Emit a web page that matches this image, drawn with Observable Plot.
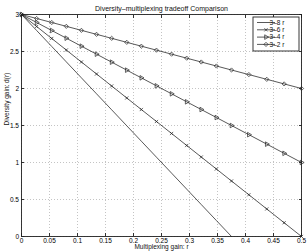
<!DOCTYPE html>
<html>
<head>
<meta charset="utf-8">
<script src="https://cdn.jsdelivr.net/npm/d3@7"></script>
<script src="https://cdn.jsdelivr.net/npm/@observablehq/plot@0.6"></script>
<style>
  html, body { margin: 0; padding: 0; background: #fff; }
  svg { display: block; }
</style>
</head>
<body>
<div id="chart"></div>
<script>
const titleText = "Diversity\u2013multiplexing tradeoff Comparison";
const xLabel = "Multiplexing gain: r";
const yLabel = "Diversity gain: d(r)";
const xTicks = [0, 0.05, 0.1, 0.15, 0.2, 0.25, 0.3, 0.35, 0.4, 0.45, 0.5];
const yTicks = [0, 0.5, 1, 1.5, 2, 2.5, 3];
const seriesNames = ["3\u20138 r", "3\u20136 r", "3\u20134 r", "3\u20132 r"];
const seriesSymbols = [null, "times", "triangle", "diamond2"];

const r = [0, 0.027, 0.054, 0.080, 0.107, 0.134, 0.161, 0.188, 0.214, 0.241, 0.268, 0.295, 0.321, 0.348, 0.375, 0.406, 0.438, 0.469, 0.5];
const d8 = [3, 2.784, 2.568, 2.36, 2.144, 1.928, 1.712, 1.496, 1.288, 1.072, 0.856, 0.64, 0.432, 0.216, 0];
const d6 = [3, 2.838, 2.676, 2.52, 2.358, 2.196, 2.034, 1.872, 1.716, 1.554, 1.392, 1.23, 1.074, 0.912, 0.75, 0.564, 0.372, 0.186, 0];
const d4 = [3, 2.892, 2.784, 2.68, 2.572, 2.464, 2.356, 2.248, 2.144, 2.036, 1.928, 1.82, 1.716, 1.608, 1.5, 1.376, 1.248, 1.124, 1.0];
const d2 = [3, 2.946, 2.892, 2.84, 2.786, 2.732, 2.678, 2.624, 2.572, 2.518, 2.464, 2.41, 2.358, 2.304, 2.25, 2.188, 2.124, 2.062, 2.0];

const seriesValues = [d8, d6, d4, d2];
const rows = [];
seriesValues.forEach((vals, i) => {
  vals.forEach((v, j) => rows.push({series: seriesNames[i], idx: i, r: r[j], d: v}));
});

const font = "'Liberation Sans', Arial, sans-serif";
const lineColor = "#222";
const symR = {times: 1.6, triangle: 1.7, diamond2: 1.9};

const plot = Plot.plot({
  width: 308,
  height: 252,
  marginLeft: 21,
  marginRight: 7,
  marginTop: 14,
  marginBottom: 16,
  style: {fontFamily: font, fontSize: "6.5px", color: "#000", background: "#fff"},
  x: {domain: [0, 0.5]},
  y: {domain: [0, 3]},
  marks: [
    Plot.gridX(xTicks, {stroke: "#aaa", strokeOpacity: 1, strokeDasharray: "1,2", strokeWidth: 0.7}),
    Plot.gridY(yTicks, {stroke: "#aaa", strokeOpacity: 1, strokeDasharray: "1,2", strokeWidth: 0.7}),
    Plot.axisX({ticks: xTicks, anchor: "bottom", tickSize: -3, tickPadding: 4.5, tickFormat: d => String(d), label: null, fontSize: 6.5, stroke: "#333"}),
    Plot.axisX({ticks: xTicks, anchor: "top", tickSize: -3, tickFormat: () => "", label: null, stroke: "#333"}),
    Plot.axisY({ticks: yTicks, anchor: "left", tickSize: -3, tickPadding: 5.5, tickFormat: d => String(d), label: null, fontSize: 6.5, stroke: "#333"}),
    Plot.axisY({ticks: yTicks, anchor: "right", tickSize: -3, tickFormat: () => "", label: null, stroke: "#333"}),
    Plot.line(rows, {x: "r", y: "d", z: "series", stroke: lineColor, strokeWidth: 0.75}),
    Plot.dot(rows.filter(p => p.idx === 1), {x: "r", y: "d", symbol: "times", r: symR.times, stroke: lineColor, strokeWidth: 0.7}),
    Plot.dot(rows.filter(p => p.idx === 2), {x: "r", y: "d", symbol: "triangle", rotate: 90, r: symR.triangle, stroke: lineColor, strokeWidth: 0.7, fill: "none"}),
    Plot.dot(rows.filter(p => p.idx === 3), {x: "r", y: "d", symbol: "diamond2", r: symR.diamond2, stroke: lineColor, strokeWidth: 0.7, fill: "none"}),
    Plot.frame({stroke: "#222", strokeWidth: 0.9}),
    Plot.text([titleText], {frameAnchor: "top", dy: -8, fontSize: 7, fill: "#111"}),
    Plot.text([xLabel], {frameAnchor: "bottom", dy: 12, fontSize: 6.5, fill: "#111"}),
    Plot.text([yLabel], {frameAnchor: "left", dx: -15, rotate: -90, fontSize: 6.5, fill: "#111"})
  ]
});

document.getElementById("chart").appendChild(plot);

// Legend box (inside the SVG, relative to the frame's top-right corner)
const xs = plot.scale("x"), ys = plot.scale("y");
const frameRight = xs.range[1], frameTop = ys.range[1];
const svgSel = d3.select(plot);
const g = svgSel.append("g");
const boxW = 46, boxH = 34, bx = frameRight - 2 - boxW, by = frameTop + 3;
g.append("rect").attr("x", bx).attr("y", by).attr("width", boxW).attr("height", boxH)
  .attr("fill", "#fff").attr("stroke", "#222").attr("stroke-width", 0.9);
const symGen = {times: d3.symbolTimes, triangle: d3.symbolTriangle, diamond2: d3.symbolDiamond2};
seriesNames.forEach((name, i) => {
  const yy = by + 5.5 + i * 7.3;
  g.append("line").attr("x1", bx + 4).attr("x2", bx + 22).attr("y1", yy).attr("y2", yy)
    .attr("stroke", lineColor).attr("stroke-width", 0.75);
  const s = seriesSymbols[i];
  if (s) {
    const size = Math.PI * symR[s] * symR[s];
    g.append("path").attr("d", d3.symbol(symGen[s], size)())
      .attr("transform", `translate(${bx + 13},${yy})` + (s === "triangle" ? " rotate(90)" : ""))
      .attr("fill", "none").attr("stroke", lineColor).attr("stroke-width", 0.7);
  }
  g.append("text").attr("x", bx + 24).attr("y", yy).attr("dy", "0.35em")
    .attr("font-family", font).attr("font-size", 6.5).attr("fill", "#111").text(name);
});
</script>
</body>
</html>
